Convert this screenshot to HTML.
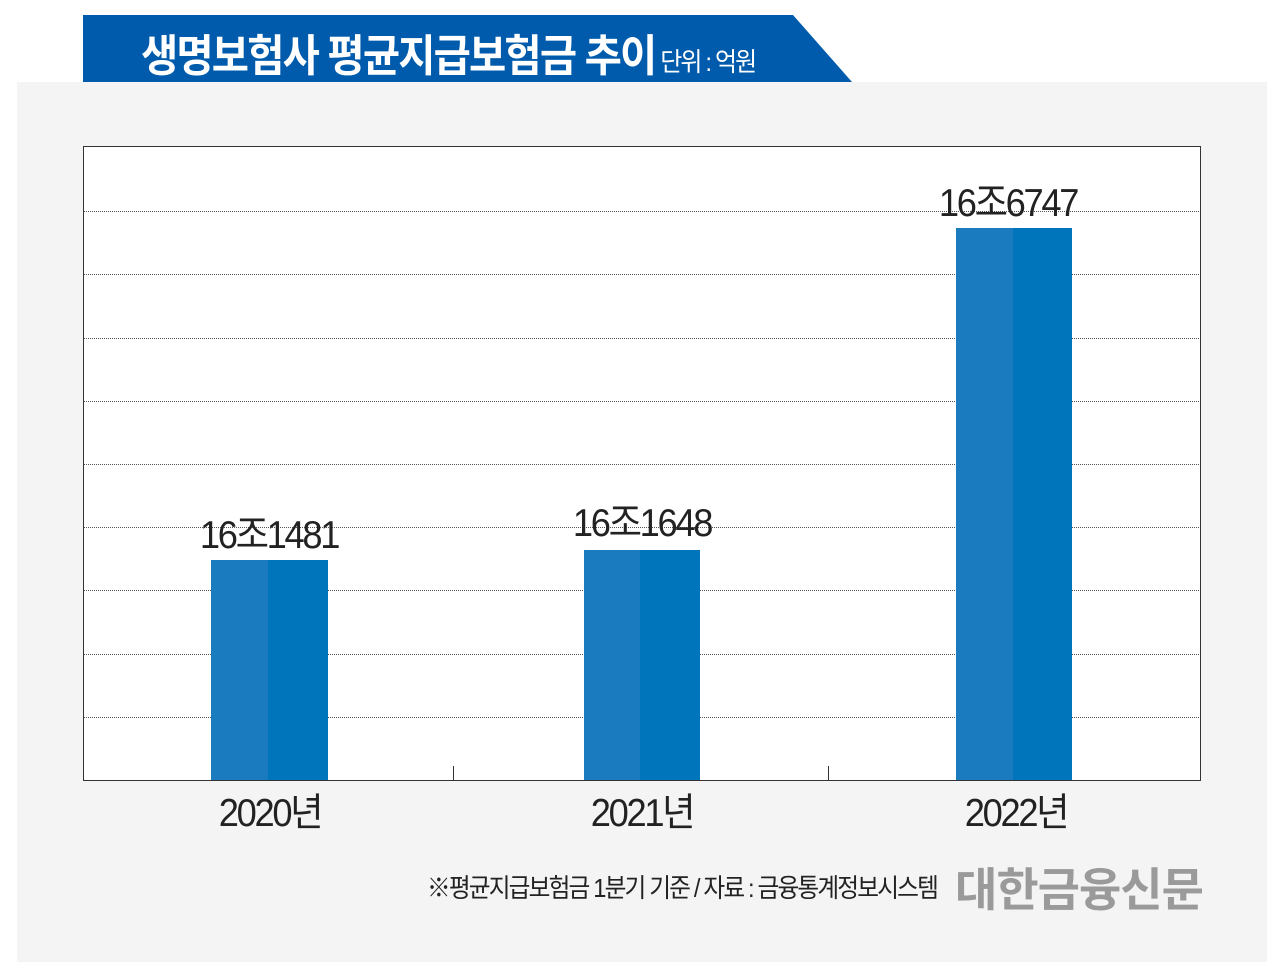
<!DOCTYPE html>
<html><head><meta charset="utf-8"><style>
body{margin:0;width:1280px;height:979px;background:#fff;position:relative;overflow:hidden;font-family:"Liberation Sans","Noto Sans CJK KR",sans-serif;}
.a{position:absolute;}
.t{position:absolute;white-space:nowrap;transform-origin:center center;}
.grid{position:absolute;left:84px;width:1115px;border-top:1px dotted #555;height:0;}
.v{font-size:39px;color:#222;letter-spacing:-2.5px;width:200px;text-align:center;transform:scaleX(0.93)}
</style></head><body>
<div class="a" style="left:17px;top:82px;width:1250px;height:880px;background:#f4f4f4"></div>
<svg class="a" style="left:0;top:0" width="1280" height="90"><polygon points="83,15 793,15 852,82 83,82" fill="#005bac"/></svg>
<div class="t" style="left:141px;top:20px;color:#fff;font-size:44px;font-weight:bold;letter-spacing:-2px;transform:scaleX(0.92);transform-origin:left center">생명보험사 평균지급보험금 추이<span style="font-size:26px;font-weight:normal;letter-spacing:-2px"> 단위 : 억원</span></div>
<div class="a" style="left:83px;top:146px;width:1116px;height:633px;background:#fff;border:1px solid #333"></div>
<div class="grid" style="top:211px"></div><div class="grid" style="top:274px"></div><div class="grid" style="top:338px"></div><div class="grid" style="top:401px"></div><div class="grid" style="top:464px"></div><div class="grid" style="top:527px"></div><div class="grid" style="top:590px"></div><div class="grid" style="top:654px"></div><div class="grid" style="top:717px"></div>
<div class="a" style="left:211px;top:560px;width:57px;height:220px;background:#1a7bbf"></div><div class="a" style="left:268px;top:560px;width:60px;height:220px;background:#0075bb"></div>
<div class="a" style="left:584px;top:550px;width:56px;height:230px;background:#1a7bbf"></div><div class="a" style="left:640px;top:550px;width:60px;height:230px;background:#0075bb"></div>
<div class="a" style="left:956px;top:228px;width:57px;height:552px;background:#1a7bbf"></div><div class="a" style="left:1013px;top:228px;width:59px;height:552px;background:#0075bb"></div>
<div class="a" style="left:453px;top:766px;width:1px;height:14px;background:#333"></div>
<div class="a" style="left:828px;top:766px;width:1px;height:14px;background:#333"></div>
<div class="t v" style="left:169px;top:504px">16조1481</div>
<div class="t v" style="left:542px;top:492px">16조1648</div>
<div class="t v" style="left:908px;top:172px">16조6747</div>
<div class="t v" style="left:170px;top:782px">2020년</div>
<div class="t v" style="left:542px;top:782px">2021년</div>
<div class="t v" style="left:916px;top:782px">2022년</div>
<div class="t" style="left:427px;top:868px;font-size:26px;color:#222;letter-spacing:-2px;transform:scaleX(0.91);transform-origin:left center">※평균지급보험금 1분기 기준 / 자료 : 금융통계정보시스템</div>
<div class="t" style="left:955px;top:854px;font-size:46px;font-weight:bold;color:#9a9a9a;letter-spacing:-1px;transform:scaleX(1.0);transform-origin:left center">대한금융신문</div>
</body></html>
